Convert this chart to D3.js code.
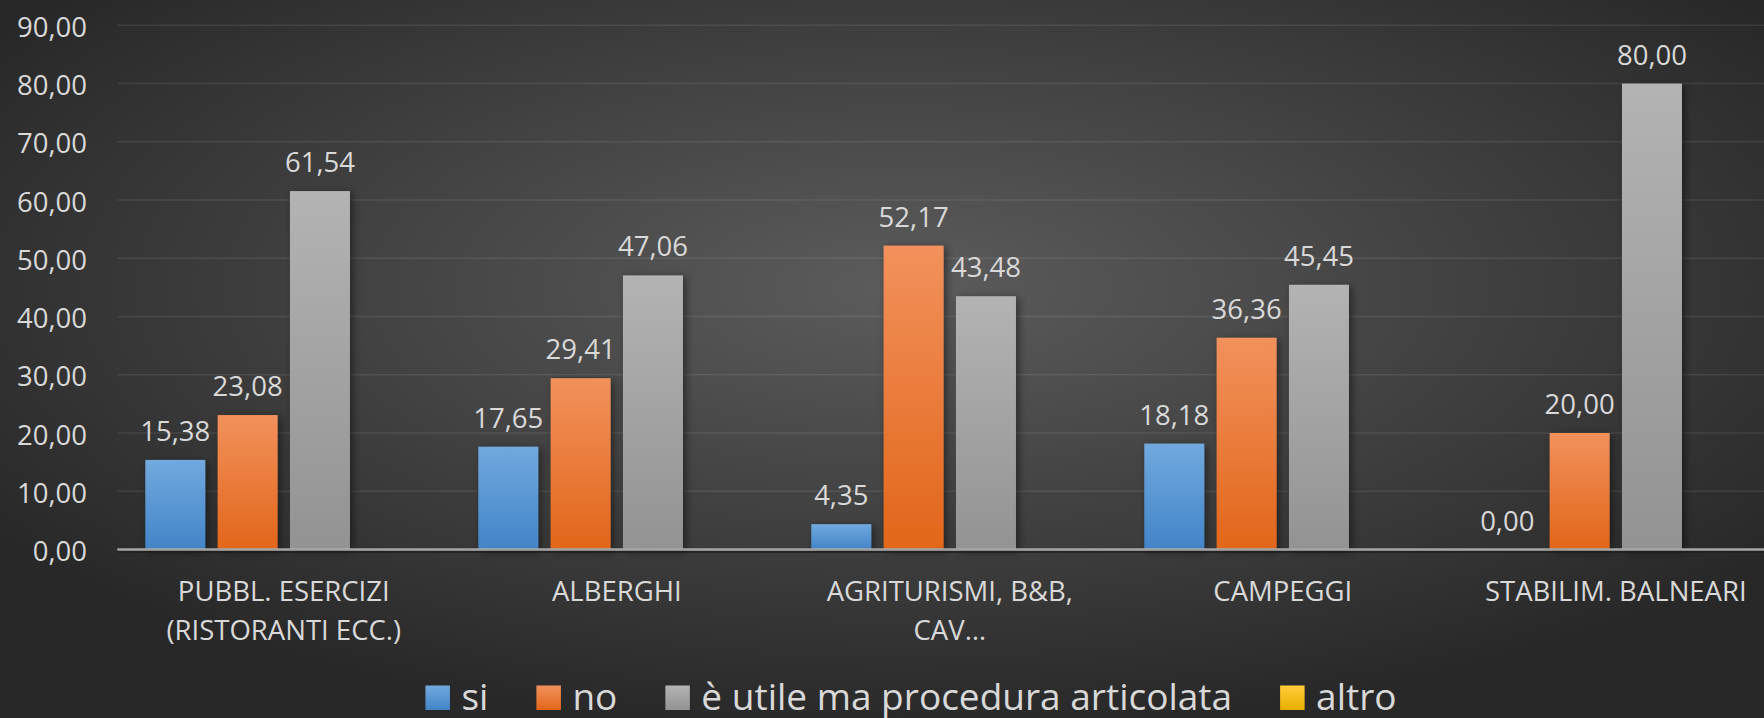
<!DOCTYPE html>
<html>
<head>
<meta charset="utf-8">
<script src="https://cdn.jsdelivr.net/npm/d3@7"></script>
<style>
  html, body { margin: 0; padding: 0; background: #2c2c2c; }
  svg { display: block; }
  text { font-family: "Open Sans", sans-serif; fill: #d9d9d9; }
</style>
</head>
<body>
<svg id="chart" width="1764" height="718"></svg>
<script>
const categories = [
  ["PUBBL. ESERCIZI", "(RISTORANTI ECC.)"],
  ["ALBERGHI"],
  ["AGRITURISMI, B&B,", "CAV…"],
  ["CAMPEGGI"],
  ["STABILIM. BALNEARI"]
];
const seriesNames = ["si", "no", "è utile ma procedura articolata", "altro"];
const siValues = [15.38, 17.65, 4.35, 18.18, 0.00];
const noValues = [23.08, 29.41, 52.17, 36.36, 20.00];
const utileValues = [61.54, 47.06, 43.48, 45.45, 80.00];
const altroValues = [null, null, null, null, null];
const yTicks = [0, 10, 20, 30, 40, 50, 60, 70, 80, 90];

const seriesValues = [siValues, noValues, utileValues, altroValues];
const catKeys = categories.map(c => c.join(" "));

const W = 1764, H = 718;
const svg = d3.select("#chart");
const defs = svg.append("defs");

// background radial gradient
const bg = defs.append("radialGradient").attr("id", "bg")
  .attr("cx", "51%").attr("cy", "40%").attr("r", "62%")
  .attr("gradientUnits", "objectBoundingBox");
bg.append("stop").attr("offset", "0%").attr("stop-color", "#5c5c5c");
bg.append("stop").attr("offset", "100%").attr("stop-color", "#282828");
svg.append("rect").attr("width", W).attr("height", H).attr("fill", "url(#bg)");

const colors = [
  ["#71a9de", "#4284c8"],
  ["#f2915c", "#e2661a"],
  ["#b3b3b3", "#939393"],
  ["#ffcd3a", "#e9ae00"]
];
colors.forEach((c, i) => {
  const g = defs.append("linearGradient").attr("id", "grad" + i)
    .attr("x1", 0).attr("y1", 0).attr("x2", 0).attr("y2", 1);
  g.append("stop").attr("offset", "0%").attr("stop-color", c[0]);
  g.append("stop").attr("offset", "100%").attr("stop-color", c[1]);
});
const f = defs.append("filter").attr("id", "shadow")
  .attr("x", "-30%").attr("y", "-10%").attr("width", "160%").attr("height", "120%");
f.append("feDropShadow").attr("dx", 3).attr("dy", 2).attr("stdDeviation", 4)
  .attr("flood-color", "#000").attr("flood-opacity", 0.45);

const x0 = d3.scaleBand().domain(catKeys).range([117.3, 1782.3]).padding(0);
const x1 = d3.scaleBand().domain(seriesNames).range([28, 305]).paddingInner(0.171).paddingOuter(0);
const y = d3.scaleLinear().domain([0, 90]).range([549.5, 25.3]);

const locale = d3.formatLocale({decimal: ",", thousands: ".", grouping: [3], currency: ["", "€"]});
const fmt = locale.format(".2f");

// gridlines
svg.append("g").selectAll("line").data(yTicks.filter(t => t > 0)).join("line")
  .attr("x1", 117.3).attr("x2", W)
  .attr("y1", d => y(d)).attr("y2", d => y(d))
  .attr("stroke", "#ffffff").attr("stroke-opacity", 0.085).attr("stroke-width", 1.6);

// y axis labels
const yAxis = d3.axisLeft(y).tickValues(yTicks).tickFormat(fmt).tickSize(0).tickPadding(0);
const ya = svg.append("g").attr("transform", "translate(87,0)").call(yAxis);
ya.select(".domain").remove();
ya.selectAll("text").attr("font-size", 27.5).attr("font-family", "Open Sans")
  .attr("fill", "#d9d9d9").attr("dy", "0.4em");

// bars
const groups = svg.append("g").selectAll("g").data(catKeys).join("g")
  .attr("transform", d => `translate(${x0(d)},0)`);

groups.each(function(cat, ci) {
  const g = d3.select(this);
  const items = seriesNames.map((s, si) => ({s, si, v: seriesValues[si][ci]}))
    .filter(d => d.v !== null);
  g.selectAll("rect").data(items.filter(d => d.v > 0)).join("rect")
    .attr("x", d => x1(d.s)).attr("width", x1.bandwidth())
    .attr("y", d => y(d.v)).attr("height", d => y(0) - y(d.v))
    .attr("fill", d => `url(#grad${d.si})`)
    .attr("filter", "url(#shadow)");
  g.selectAll("text.lbl").data(items).join("text").attr("class", "lbl")
    .attr("x", d => x1(d.s) + x1.bandwidth() / 2)
    .attr("y", d => y(d.v) - 19)
    .attr("text-anchor", "middle")
    .attr("font-size", 27.5)
    .text(d => fmt(d.v));
});

// zero axis line
svg.append("line").attr("x1", 117.3).attr("x2", W)
  .attr("y1", y(0) + 2.5).attr("y2", y(0) + 2.5)
  .attr("stroke", "#1e1e1e").attr("stroke-width", 2).attr("opacity", 0.7);
svg.append("line").attr("x1", 117.3).attr("x2", W)
  .attr("y1", y(0)).attr("y2", y(0))
  .attr("stroke", "#a6a6a6").attr("stroke-width", 2.5);

// category labels
const cl = svg.append("g").selectAll("text").data(categories).join("text")
  .attr("x", (d, i) => x0(catKeys[i]) + x0.bandwidth() / 2)
  .attr("y", 600.7)
  .attr("text-anchor", "middle")
  .attr("font-size", 27.5);
cl.selectAll("tspan").data(d => d).join("tspan")
  .attr("x", function() { return d3.select(this.parentNode).attr("x"); })
  .attr("dy", (d, i) => i === 0 ? 0 : 39.4)
  .text(d => d);

// legend
const leg = svg.append("g");
const swatch = 24.5, gapText = 11.5, gapItem = 48, legCenter = 911, legBase = 710;
const items = leg.selectAll("g").data(seriesNames).join("g");
items.append("rect").attr("width", swatch).attr("height", swatch)
  .attr("y", legBase - 24.5).attr("fill", (d, i) => `url(#grad${i})`);
items.append("text").attr("x", swatch + gapText).attr("y", legBase)
  .attr("font-size", 37).text(d => d);
let xpos = 0;
const offs = [];
items.each(function() {
  offs.push(xpos);
  const tw = d3.select(this).select("text").node().getComputedTextLength();
  xpos += swatch + gapText + tw + gapItem;
});
const total = xpos - gapItem;
const start = legCenter - total / 2;
items.attr("transform", (d, i) => `translate(${start + offs[i]},0)`);
</script>
</body>
</html>
